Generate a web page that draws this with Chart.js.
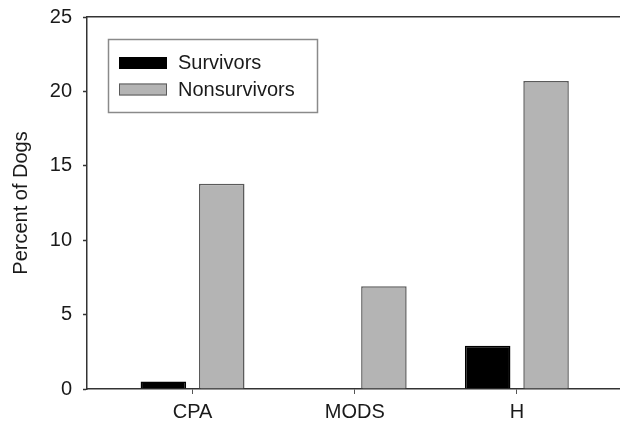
<!DOCTYPE html>
<html>
<head>
<meta charset="utf-8">
<script src="https://cdn.jsdelivr.net/npm/chart.js@4/dist/chart.umd.min.js"></script>
<style>
  html, body { margin: 0; padding: 0; background: #fff; }
  #wrap { width: 620px; height: 428px; position: relative; }
</style>
</head>
<body>
<div id="wrap"><canvas id="chart" width="620" height="428"></canvas></div>
<script>
// Outcome categories along the x axis
const categories = ['CPA', 'MODS', 'H'];
// Percent of dogs in each group
const survivors = [0.5, 0, 2.9];
const nonsurvivors = [13.8, 6.9, 20.7];
const seriesLabels = ['Survivors', 'Nonsurvivors'];
// Y axis tick values
const yTicks = [0, 5, 10, 15, 20, 25];

const FONT = '"Liberation Sans", Arial, Helvetica, sans-serif';
const TEXT = '#1a1a1a';
const AXIS = '#333333';
const FS = 20;

const toPoints = arr => arr.map((v, i) => ({ x: i, y: v }));

// Boxed legend drawn in the upper left of the plot
const boxedLegend = {
  id: 'boxedLegend',
  afterDraw(chart) {
    const ctx = chart.ctx;
    ctx.save();
    ctx.lineWidth = 1.5;
    ctx.strokeStyle = '#8a8a8a';
    ctx.strokeRect(108.5, 39.5, 209, 73);
    ctx.font = FS + 'px ' + FONT;
    ctx.textBaseline = 'middle';
    ctx.textAlign = 'left';
    chart.data.datasets.forEach((ds, i) => {
      const cy = 63 + i * 26.5;
      ctx.fillStyle = ds.backgroundColor;
      ctx.fillRect(119, cy - 6, 48, 12);
      ctx.lineWidth = 1;
      ctx.strokeStyle = ds.borderColor;
      ctx.strokeRect(119.5, cy - 5.5, 47, 11);
      ctx.fillStyle = TEXT;
      ctx.fillText(ds.label, 178, cy + 0.5);
    });
    ctx.restore();
  }
};

new Chart(document.getElementById('chart'), {
  type: 'bar',
  data: {
    datasets: [
      {
        label: seriesLabels[0],
        data: toPoints(survivors),
        backgroundColor: '#000000',
        borderColor: '#000000',
        borderWidth: 1.5,
        categoryPercentage: 0.72,
        barPercentage: 0.78
      },
      {
        label: seriesLabels[1],
        data: toPoints(nonsurvivors),
        backgroundColor: '#b4b4b4',
        borderColor: '#5a5a5a',
        borderWidth: 1.5,
        categoryPercentage: 0.72,
        barPercentage: 0.78
      }
    ]
  },
  options: {
    responsive: false,
    animation: false,
    layout: { padding: 0 },
    plugins: {
      legend: { display: false },
      tooltip: { enabled: false }
    },
    scales: {
      x: {
        type: 'linear',
        position: 'bottom',
        offset: false,
        min: -0.651,
        max: 2.636,
        afterBuildTicks: s => { s.ticks = categories.map((c, i) => ({ value: i })); },
        afterFit: s => { s.height = 39; s.paddingLeft = 0; s.paddingRight = 0; },
        grid: {
          offset: false,
          drawOnChartArea: false,
          drawTicks: true,
          tickLength: 5,
          tickWidth: 1,
          tickColor: '#555555'
        },
        border: { display: true, color: AXIS, width: 1.5 },
        ticks: {
          padding: 6,
          color: TEXT,
          font: { family: FONT, size: FS },
          maxRotation: 0,
          autoSkip: false,
          callback: v => categories[v]
        }
      },
      xTop: {
        type: 'linear',
        position: 'top',
        offset: false,
        min: -0.651,
        max: 2.636,
        afterFit: s => { s.height = 17; s.paddingLeft = 0; s.paddingRight = 0; },
        grid: { display: false, offset: false },
        border: { display: true, color: AXIS, width: 1.5 },
        ticks: { display: false }
      },
      y: {
        type: 'linear',
        position: 'left',
        min: 0,
        max: 25,
        afterBuildTicks: s => { s.ticks = yTicks.map(v => ({ value: v })); },
        afterFit: s => { s.width = 87; s.paddingTop = 0; s.paddingBottom = 0; },
        grid: {
          drawOnChartArea: false,
          drawTicks: true,
          tickLength: 4,
          tickWidth: 1.5,
          tickColor: AXIS
        },
        border: { display: true, color: AXIS, width: 1.5 },
        ticks: {
          padding: 11,
          color: TEXT,
          font: { family: FONT, size: FS }
        },
        title: {
          display: true,
          text: 'Percent of Dogs',
          color: TEXT,
          font: { family: FONT, size: FS, lineHeight: 1 },
          padding: { top: 11, bottom: 0 }
        }
      }
    }
  },
  plugins: [boxedLegend]
});
</script>
</body>
</html>
